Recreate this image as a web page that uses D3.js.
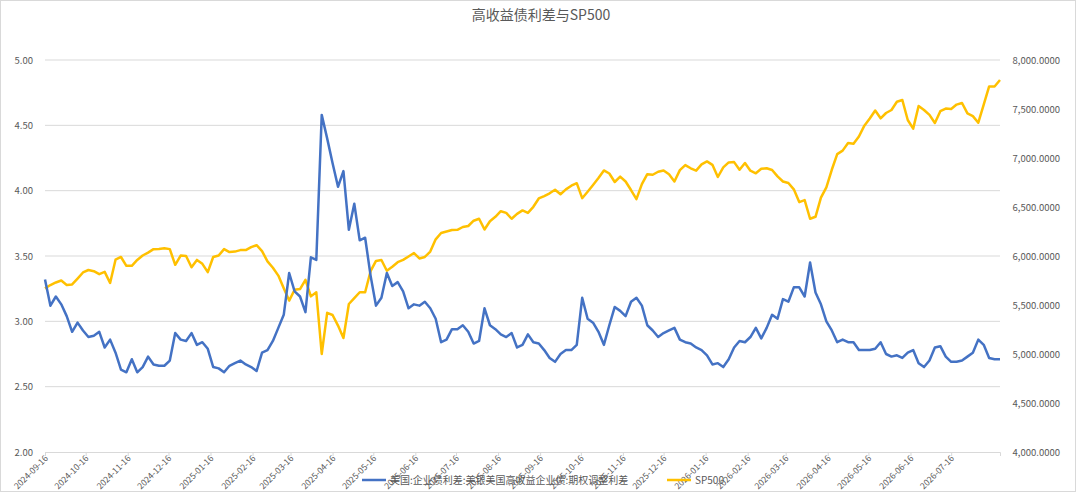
<!DOCTYPE html>
<html lang="zh"><head><meta charset="UTF-8">
<title>高收益债利差与SP500</title>
<script src="https://d3js.org/d3.v7.min.js"></script>
<style>
  body { margin: 0; background: #fff; }
  text { font-family: "Noto Sans CJK SC", "Noto Sans", sans-serif; }
</style>
</head>
<body>
<script>
// data, one point every 4 days from the start date
var startDate = "2024-09-16";
var stepDays = 4;

var spread = [
  3.32,3.12,3.19,3.13,3.04,2.92,2.99,2.93,2.88,2.89,
  2.92,2.80,2.86,2.76,2.63,2.61,2.71,2.61,2.65,2.73,
  2.67,2.66,2.66,2.70,2.91,2.86,2.85,2.91,2.82,2.84,
  2.79,2.65,2.64,2.61,2.66,2.68,2.70,2.67,2.65,2.62,
  2.76,2.78,2.85,2.95,3.05,3.37,3.23,3.19,3.07,3.49,
  3.47,4.58,4.40,4.21,4.03,4.15,3.70,3.90,3.62,3.64,
  3.35,3.12,3.18,3.37,3.27,3.30,3.23,3.10,3.13,3.12,
  3.15,3.10,3.02,2.84,2.86,2.94,2.94,2.97,2.92,2.83,
  2.85,3.10,2.97,2.94,2.90,2.88,2.91,2.80,2.82,2.90,
  2.84,2.83,2.78,2.72,2.69,2.75,2.78,2.78,2.82,3.18,
  3.02,2.99,2.92,2.82,2.97,3.11,3.08,3.04,3.15,3.18,
  3.12,2.97,2.93,2.88,2.91,2.93,2.95,2.86,2.84,2.83,
  2.80,2.78,2.74,2.67,2.68,2.65,2.71,2.80,2.85,2.84,
  2.88,2.95,2.87,2.95,3.05,3.02,3.17,3.15,3.26,3.26,
  3.19,3.45,3.22,3.13,3.00,2.93,2.84,2.86,2.84,2.84,
  2.78,2.78,2.78,2.79,2.84,2.75,2.73,2.74,2.72,2.76,
  2.78,2.68,2.65,2.70,2.80,2.81,2.73,2.69,2.69,2.70,
  2.73,2.76,2.86,2.82,2.72,2.71,2.71
];

var sp500 = [
  5670,5704,5730,5750,5705,5710,5770,5832,5857,5845,
  5815,5838,5725,5962,5990,5900,5900,5960,6005,6035,
  6070,6072,6080,6070,5910,6005,6000,5885,5960,5920,
  5835,5990,6005,6070,6040,6045,6060,6060,6090,6110,
  6050,5945,5880,5800,5670,5545,5655,5663,5757,5588,
  5630,5000,5420,5398,5290,5163,5510,5570,5630,5630,
  5845,5950,5959,5850,5890,5937,5960,5995,6030,5975,
  5990,6045,6170,6235,6250,6265,6267,6296,6306,6360,
  6380,6270,6355,6400,6457,6440,6380,6430,6465,6440,
  6502,6587,6612,6640,6676,6630,6680,6717,6743,6590,
  6656,6724,6795,6873,6842,6755,6810,6760,6673,6580,
  6733,6835,6829,6860,6873,6834,6760,6876,6928,6895,
  6871,6935,6965,6930,6806,6905,6955,6958,6880,6949,
  6870,6844,6890,6895,6878,6812,6760,6745,6680,6550,
  6570,6380,6400,6595,6700,6880,7040,7075,7153,7145,
  7220,7330,7403,7485,7405,7459,7490,7574,7592,7388,
  7300,7530,7490,7440,7357,7478,7505,7500,7545,7561,
  7455,7427,7360,7545,7730,7730,7796
];

var xTickLabels = [
  "2024-09-16","2024-10-16","2024-11-16","2024-12-16","2025-01-16","2025-02-16",
  "2025-03-16","2025-04-16","2025-05-16","2025-06-16","2025-07-16","2025-08-16",
  "2025-09-16","2025-10-16","2025-11-16","2025-12-16","2026-01-16","2026-02-16",
  "2026-03-16","2026-04-16","2026-05-16","2026-06-16","2026-07-16"
];
var leftTicks = [2.0, 2.5, 3.0, 3.5, 4.0, 4.5, 5.0];
var rightTicks = [4000, 4500, 5000, 5500, 6000, 6500, 7000, 7500, 8000];

var seriesNames = ["美国:企业债利差:美银美国高收益企业债:期权调整利差", "SP500"];
var seriesColors = ["#4472C4", "#FFC000"];

var W = 1080, H = 493;
var plotL = 45, plotR = 1000, plotT = 60, plotB = 452;

var parse = d3.timeParse("%Y-%m-%d");
var t0 = parse(startDate);
var dates = spread.map(function(d, i) { return d3.timeDay.offset(t0, i * stepDays); });

var svg = d3.select("body").append("svg")
  .attr("width", W).attr("height", H);

svg.append("rect")
  .attr("x", 0.5).attr("y", 0.5)
  .attr("width", W - 5).attr("height", H - 2)
  .attr("fill", "#fff").attr("stroke", "#d9d9d9");

var x = d3.scaleTime().domain([dates[0], dates[dates.length - 1]]).range([plotL, plotR]);
var yL = d3.scaleLinear().domain([2, 5]).range([plotB, plotT]);
var yR = d3.scaleLinear().domain([4000, 8000]).range([plotB, plotT]);

// gridlines from left axis
svg.append("g").selectAll("line")
  .data(leftTicks.slice(1))
  .enter().append("line")
  .attr("x1", plotL).attr("x2", plotR)
  .attr("y1", function(d) { return yL(d); })
  .attr("y2", function(d) { return yL(d); })
  .attr("stroke", "#d9d9d9").attr("stroke-width", 1);

// left axis labels
svg.append("g").selectAll("text")
  .data(leftTicks)
  .enter().append("text")
  .attr("x", 33).attr("y", function(d) { return yL(d) + 3.5; })
  .attr("text-anchor", "end")
  .attr("font-size", 9.5).attr("fill", "#595959")
  .text(function(d) { return d.toFixed(2); });

// right axis labels
var fmtR = d3.format(",.4f");
svg.append("g").selectAll("text")
  .data(rightTicks)
  .enter().append("text")
  .attr("x", 1060).attr("y", function(d) { return yR(d) + 3.5; })
  .attr("text-anchor", "end")
  .attr("font-size", 9.5).attr("fill", "#595959")
  .text(function(d) { return fmtR(d); });

// x axis
var xAxis = d3.axisBottom(x)
  .tickValues(xTickLabels.map(parse))
  .tickSize(4)
  .tickFormat(d3.timeFormat("%Y-%m-%d"));

var gx = svg.append("g")
  .attr("transform", "translate(0," + plotB + ")")
  .call(xAxis);
gx.select(".domain").attr("stroke", "#d9d9d9");
gx.selectAll(".tick line").attr("stroke", "#d9d9d9");
gx.selectAll(".tick text")
  .attr("font-size", 8.5).attr("fill", "#595959")
  .attr("font-family", "\"Noto Sans CJK SC\", sans-serif")
  .attr("text-anchor", "end")
  .attr("y", 0).attr("dx", 0).attr("dy", 0)
  .attr("transform", "translate(3,7) rotate(-45)");

// lines
var lineL = d3.line()
  .x(function(d, i) { return x(dates[i]); })
  .y(function(d) { return yL(d); });
var lineR = d3.line()
  .x(function(d, i) { return x(dates[i]); })
  .y(function(d) { return yR(d); });

svg.append("path").datum(sp500)
  .attr("d", lineR)
  .attr("fill", "none").attr("stroke", seriesColors[1])
  .attr("stroke-width", 2.5).attr("stroke-linejoin", "round");

svg.append("path").datum(spread)
  .attr("d", lineL)
  .attr("fill", "none").attr("stroke", seriesColors[0])
  .attr("stroke-width", 2.5).attr("stroke-linejoin", "round");

// title
svg.append("text")
  .attr("x", 541).attr("y", 20)
  .attr("text-anchor", "middle")
  .attr("font-size", 14).attr("fill", "#595959")
  .text("高收益债利差与SP500");

// legend
var legendX = [362, 667];
var lg = svg.append("g").selectAll("g")
  .data(seriesNames)
  .enter().append("g")
  .attr("transform", function(d, i) { return "translate(" + legendX[i] + ",480)"; });
lg.append("line")
  .attr("x1", 0).attr("x2", 24)
  .attr("stroke", function(d, i) { return seriesColors[i]; })
  .attr("stroke-width", 2.5);
lg.append("text")
  .attr("x", 28).attr("y", 3.5)
  .attr("font-size", 10).attr("fill", "#595959")
  .text(function(d) { return d; });
</script>
</body></html>
